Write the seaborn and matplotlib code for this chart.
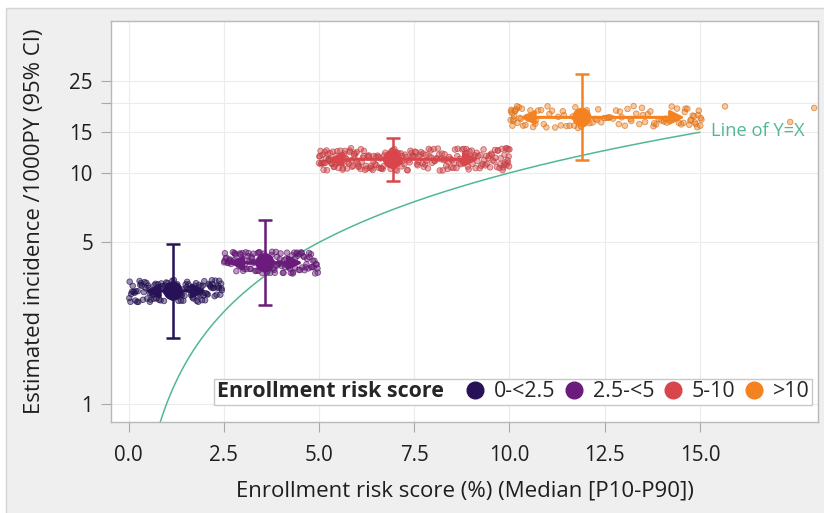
import numpy as np
import pandas as pd
import matplotlib
matplotlib.use("Agg")
import matplotlib.pyplot as plt
import seaborn as sns
from matplotlib.lines import Line2D
from matplotlib.offsetbox import HPacker
from matplotlib.patches import Rectangle
from matplotlib.ticker import FixedLocator, NullLocator

# ---- summary per enrollment risk-score group ----
groups = ["0-<2.5", "2.5-<5", "5-10", ">10"]
colors = ["#271257", "#6a1b7b", "#d8464b", "#f58220"]
median_score = [1.17, 3.58, 6.93, 11.9]
p10_score = [0.43, 2.62, 5.24, 10.28]
p90_score = [2.05, 4.57, 9.19, 14.6]
incidence = [3.08, 4.08, 11.45, 17.4]
ci_low = [1.93, 2.68, 9.25, 11.4]
ci_high = [4.92, 6.23, 14.2, 26.8]

# ---- individual enrollment risk scores (%) ----
scores_g1 = [0.02, 0.05, 0.09, 0.11, 0.16, 0.19, 0.23, 0.24, 0.29, 0.33, 0.35, 0.38,
             0.42, 0.47, 0.49, 0.53, 0.56, 0.58, 0.63, 0.66, 0.68, 0.71, 0.75, 0.79,
             0.8, 0.84, 0.88, 0.9, 0.93, 0.97, 1.01, 1.02, 1.06, 1.1, 1.13, 1.15, 1.19,
             1.22, 1.26, 1.28, 1.31, 1.35, 1.38, 1.4, 1.44, 1.47, 1.5, 1.54, 1.57, 1.59,
             1.62, 1.66, 1.7, 1.72, 1.75, 1.79, 1.83, 1.86, 1.89, 1.91, 1.95, 1.99,
             2.03, 2.06, 2.1, 2.13, 2.17, 2.2, 2.24, 2.28, 2.31, 2.35, 2.38, 2.41, 2.44,
             0.07, 0.13, 0.18, 0.26, 0.31, 0.4, 0.45, 0.51, 0.6, 0.64, 0.73, 0.77,
             0.86, 0.95, 0.99, 1.04, 1.08, 1.17, 1.2, 1.24, 1.33, 1.37, 1.42, 1.52,
             1.55, 1.64, 1.68, 1.77, 1.81, 1.88, 1.93, 1.97, 2.01, 2.08, 2.15, 2.19,
             2.22, 2.26, 2.33, 2.37, 2.43, 2.45, 0.03, 0.55, 1.12]
scores_g2 = [2.51, 2.53, 2.57, 2.6, 2.62, 2.66, 2.69, 2.72, 2.74, 2.78, 2.81, 2.83,
             2.87, 2.9, 2.92, 2.96, 2.99, 3.03, 3.05, 3.08, 3.12, 3.15, 3.17, 3.21,
             3.24, 3.26, 3.3, 3.33, 3.36, 3.39, 3.42, 3.44, 3.48, 3.51, 3.54, 3.57,
             3.6, 3.63, 3.65, 3.69, 3.72, 3.75, 3.77, 3.81, 3.84, 3.87, 3.9, 3.93,
             3.95, 3.99, 4.02, 4.05, 4.08, 4.11, 4.14, 4.16, 4.2, 4.23, 4.26, 4.29,
             4.32, 4.35, 4.38, 4.41, 4.44, 4.47, 4.5, 4.53, 4.56, 4.59, 4.62, 4.65,
             4.69, 4.72, 4.75, 4.79, 4.82, 4.86, 4.9, 4.94, 4.97,
             2.52, 2.55, 2.64, 2.68, 2.76, 2.8, 2.85, 2.94, 2.98, 3.01, 3.1, 3.14,
             3.19, 3.23, 3.28, 3.35, 3.41, 3.46, 3.5, 3.56, 3.62, 3.67, 3.71, 3.79,
             3.83, 3.89, 3.97, 4.01, 4.07, 4.13, 4.18, 4.25, 4.31, 4.37, 4.43, 4.49,
             4.55, 4.61, 4.67, 4.74, 4.8, 4.84, 4.88, 4.92, 4.96]
scores_g3 = [5.0, 5.02, 5.05, 5.07, 5.1, 5.13, 5.15, 5.18, 5.21, 5.23, 5.26, 5.29,
             5.32, 5.34, 5.37, 5.4, 5.43, 5.45, 5.48, 5.51, 5.54, 5.57, 5.6, 5.63,
             5.66, 5.69, 5.72, 5.75, 5.78, 5.81, 5.84, 5.87, 5.9, 5.93, 5.96, 5.99,
             6.02, 6.05, 6.09, 6.12, 6.15, 6.18, 6.21, 6.25, 6.28, 6.31, 6.34, 6.38,
             6.41, 6.44, 6.47, 6.51, 6.54, 6.57, 6.61, 6.64, 6.67, 6.71, 6.74, 6.77,
             6.81, 6.84, 6.88, 6.91, 6.94, 6.98, 7.01, 7.05, 7.08, 7.12, 7.15, 7.19,
             7.22, 7.26, 7.29, 7.33, 7.36, 7.4, 7.43, 7.47, 7.5, 7.54, 7.57, 7.61,
             7.64, 7.68, 7.72, 7.75, 7.79, 7.82, 7.86, 7.9, 7.93, 7.97, 8.01, 8.04,
             8.08, 8.12, 8.15, 8.19, 8.23, 8.27, 8.3, 8.34, 8.38, 8.42, 8.45, 8.49,
             8.53, 8.57, 8.61, 8.64, 8.68, 8.72, 8.76, 8.8, 8.84, 8.87, 8.91, 8.95,
             8.99, 9.03, 9.07, 9.11, 9.14, 9.18, 9.22, 9.26, 9.3, 9.34, 9.37, 9.41,
             9.45, 9.49, 9.52, 9.56, 9.6, 9.63, 9.67, 9.7, 9.74, 9.77, 9.8, 9.84,
             9.87, 9.9, 9.93, 9.96, 9.98, 10.0,
             5.01, 5.04, 5.09, 5.12, 5.17, 5.2, 5.25, 5.28, 5.33, 5.39, 5.44, 5.5,
             5.56, 5.62, 5.68, 5.74, 5.8, 5.86, 5.92, 5.98, 6.04, 6.1, 6.17, 6.23,
             6.3, 6.36, 6.43, 6.49, 6.56, 6.63, 6.69, 6.76, 6.83, 6.9, 6.96, 7.03,
             7.1, 7.17, 7.24, 7.31, 7.38, 7.45, 7.52, 7.59, 7.66, 7.74, 7.81, 7.88,
             7.95, 8.03, 8.1, 8.17, 8.25, 8.32, 8.4, 8.47, 8.55, 8.63, 8.7, 8.78,
             8.86, 8.93, 9.01, 9.09, 9.16, 9.24, 9.32, 9.39, 9.47, 9.54, 9.62, 9.69,
             9.76, 9.82, 9.86, 9.89, 9.92, 9.95, 9.97, 9.99]
scores_g4 = [10.03, 10.05, 10.08, 10.1, 10.12, 10.15, 10.18, 10.21, 10.25, 10.3,
             10.36, 10.42, 10.49, 10.55, 10.62, 10.68, 10.75, 10.83, 10.9, 10.97,
             11.05, 11.12, 11.2, 11.28, 11.35, 11.43, 11.5, 11.58, 11.66, 11.73,
             11.8, 11.88, 11.95, 12.03, 12.1, 12.18, 12.26, 12.33, 12.41, 12.49,
             12.56, 12.64, 12.72, 12.8, 12.87, 12.95, 13.03, 13.1, 13.18, 13.26,
             13.33, 13.41, 13.48, 13.56, 13.63, 13.7, 13.78, 13.85, 13.92, 13.99,
             14.06, 14.13, 14.2, 14.26, 14.33, 14.39, 14.45, 14.51, 14.57, 14.62,
             14.67, 14.72, 14.77, 14.81, 14.85, 14.89, 14.93, 14.97, 15.01, 15.04,
             10.04, 10.07, 10.11, 10.14, 10.2, 10.27, 10.33, 10.46, 10.7, 11.0,
             11.4, 11.7, 12.0, 12.3, 12.6, 12.9, 13.2, 13.5, 13.8, 14.1, 14.4,
             14.6, 14.75, 14.87, 14.95, 15.02,
             15.66, 17.37, 18.0]

x_ticks = [0, 2.5, 5, 7.5, 10, 12.5, 15]
x_tick_labels = ["0.0", "2.5", "5.0", "7.5", "10.0", "12.5", "15.0"]
y_ticks = [1, 5, 10, 15, 20, 25]
y_tick_labels = ["1", "5", "10", "15", "", "25"]

line_color = "#52b893"
text_color = "#1e1e1e"
palette = dict(zip(groups, colors))

sns.set_theme(style="white")
plt.rcParams["font.family"] = ["Open Sans", "DejaVu Sans"]

fig = plt.figure(figsize=(8.24, 5.13), dpi=100, facecolor="white")
panel = Rectangle((6 / 824, -0.01), 1.0, 1 - 8 / 513 + 0.01,
                  transform=fig.transFigure, facecolor="#efefef",
                  edgecolor="#d4d4d4", lw=1.0, zorder=-10)
fig.patches.append(panel)
ax = fig.add_axes([111 / 824, 1 - 421.7 / 513, (818 - 111) / 824, (421.7 - 21) / 513])
ax.set_facecolor("white")

# individual scores, placed at their group's estimated incidence
score_lists = [scores_g1, scores_g2, scores_g3, scores_g4]
pts = pd.DataFrame({
    "score": np.concatenate(score_lists),
    "group": np.repeat(groups, [len(s) for s in score_lists]),
})
pts["incidence"] = pts["group"].map(dict(zip(groups, incidence)))

np.random.seed(11)
sns.stripplot(data=pts, x="score", y="incidence", hue="group", hue_order=groups,
              palette=palette, orient="h", native_scale=True, log_scale=(False, True),
              jitter=0.4, size=4.0, linewidth=0.6, legend=False, ax=ax, zorder=2)
for coll in ax.collections:
    fc = np.array(coll.get_facecolors())
    if len(fc) == 0:
        continue
    face = fc.copy()
    face[:, 3] = 0.45
    edge = fc.copy()
    edge[:, :3] *= 0.85
    edge[:, 3] = 0.7
    coll.set_facecolors(face)
    coll.set_edgecolors(edge)

# reference line Y = X
ref_x = np.geomspace(0.8, 15, 200)
ax.plot(ref_x, ref_x, color=line_color, lw=1.1, zorder=1)
ax.text(15.3, 15.2, "Line of Y=X", color=line_color, fontsize=13.2, va="center", ha="left")

# confidence intervals and P10-P90 ranges
for i, g in enumerate(groups):
    c = palette[g]
    ax.errorbar(median_score[i], incidence[i],
                yerr=[[incidence[i] - ci_low[i]], [ci_high[i] - incidence[i]]],
                fmt="none", ecolor=c, elinewidth=1.8, capsize=5, capthick=1.8, zorder=4)
    ax.annotate("", xy=(p10_score[i], incidence[i]), xytext=(p90_score[i], incidence[i]),
                arrowprops=dict(arrowstyle="<|-|>,head_length=0.7,head_width=0.35",
                                color=c, lw=2.2, shrinkA=0, shrinkB=0), zorder=4)

summary = pd.DataFrame({"group": groups, "median": median_score, "incidence": incidence})
sns.scatterplot(data=summary, x="median", y="incidence", hue="group", hue_order=groups,
                palette=palette, s=190, linewidth=0, legend=False, ax=ax, zorder=5)

# axes
ax.set_xlim(-0.46, 18.1)
ax.set_ylim(0.836, 45.5)
ax.set_xticks(x_ticks)
ax.set_xticklabels(x_tick_labels)
ax.yaxis.set_major_locator(FixedLocator(y_ticks))
ax.yaxis.set_minor_locator(NullLocator())
ax.set_yticklabels(y_tick_labels)
ax.grid(True, color="#ececec", lw=0.8)
ax.set_axisbelow(True)
ax.tick_params(axis="both", which="major", length=7, width=0.8, color="#a8a8a8",
               labelsize=14.8, labelcolor=text_color, bottom=True, left=True)
ax.tick_params(axis="x", pad=10)
ax.tick_params(axis="y", pad=6)
for s in ax.spines.values():
    s.set_color("#b8b8b8")
    s.set_linewidth(1.0)
ax.set_xlabel("Enrollment risk score (%) (Median [P10-P90])", fontsize=16,
              color=text_color)
ax.set_ylabel("Estimated incidence /1000PY (95% CI)", fontsize=15.9,
              color=text_color)
ax.xaxis.set_label_coords(0.5, -0.146)
ax.yaxis.set_label_coords(-0.094, 0.5)

# legend with its title on the same row as the entries
handles = [Line2D([], [], marker="o", ls="", markersize=12, markerfacecolor=c,
                  markeredgecolor=c) for c in colors]
leg = ax.legend(handles, groups, title="Enrollment risk score", ncol=4,
                loc="lower right", bbox_to_anchor=(0.9915, 0.0417), borderaxespad=0,
                fontsize=15.4, title_fontproperties={"weight": "bold", "size": 15.4},
                handlelength=0.85, handletextpad=0.45, columnspacing=0.45,
                borderpad=0.12, fancybox=False, frameon=True, framealpha=1,
                edgecolor="#c8c8c8", facecolor="white")
leg.get_frame().set_linewidth(1.0)
old_box = leg._legend_box
new_box = HPacker(pad=old_box.pad, sep=16, align="center",
                  children=[leg._legend_title_box, leg._legend_handle_box])
new_box.set_figure(fig)
new_box.axes = ax
new_box.set_offset(leg._findoffset)
leg._legend_box = new_box
leg.set_zorder(6)

fig.savefig("out.png", dpi=100, facecolor=fig.get_facecolor())
